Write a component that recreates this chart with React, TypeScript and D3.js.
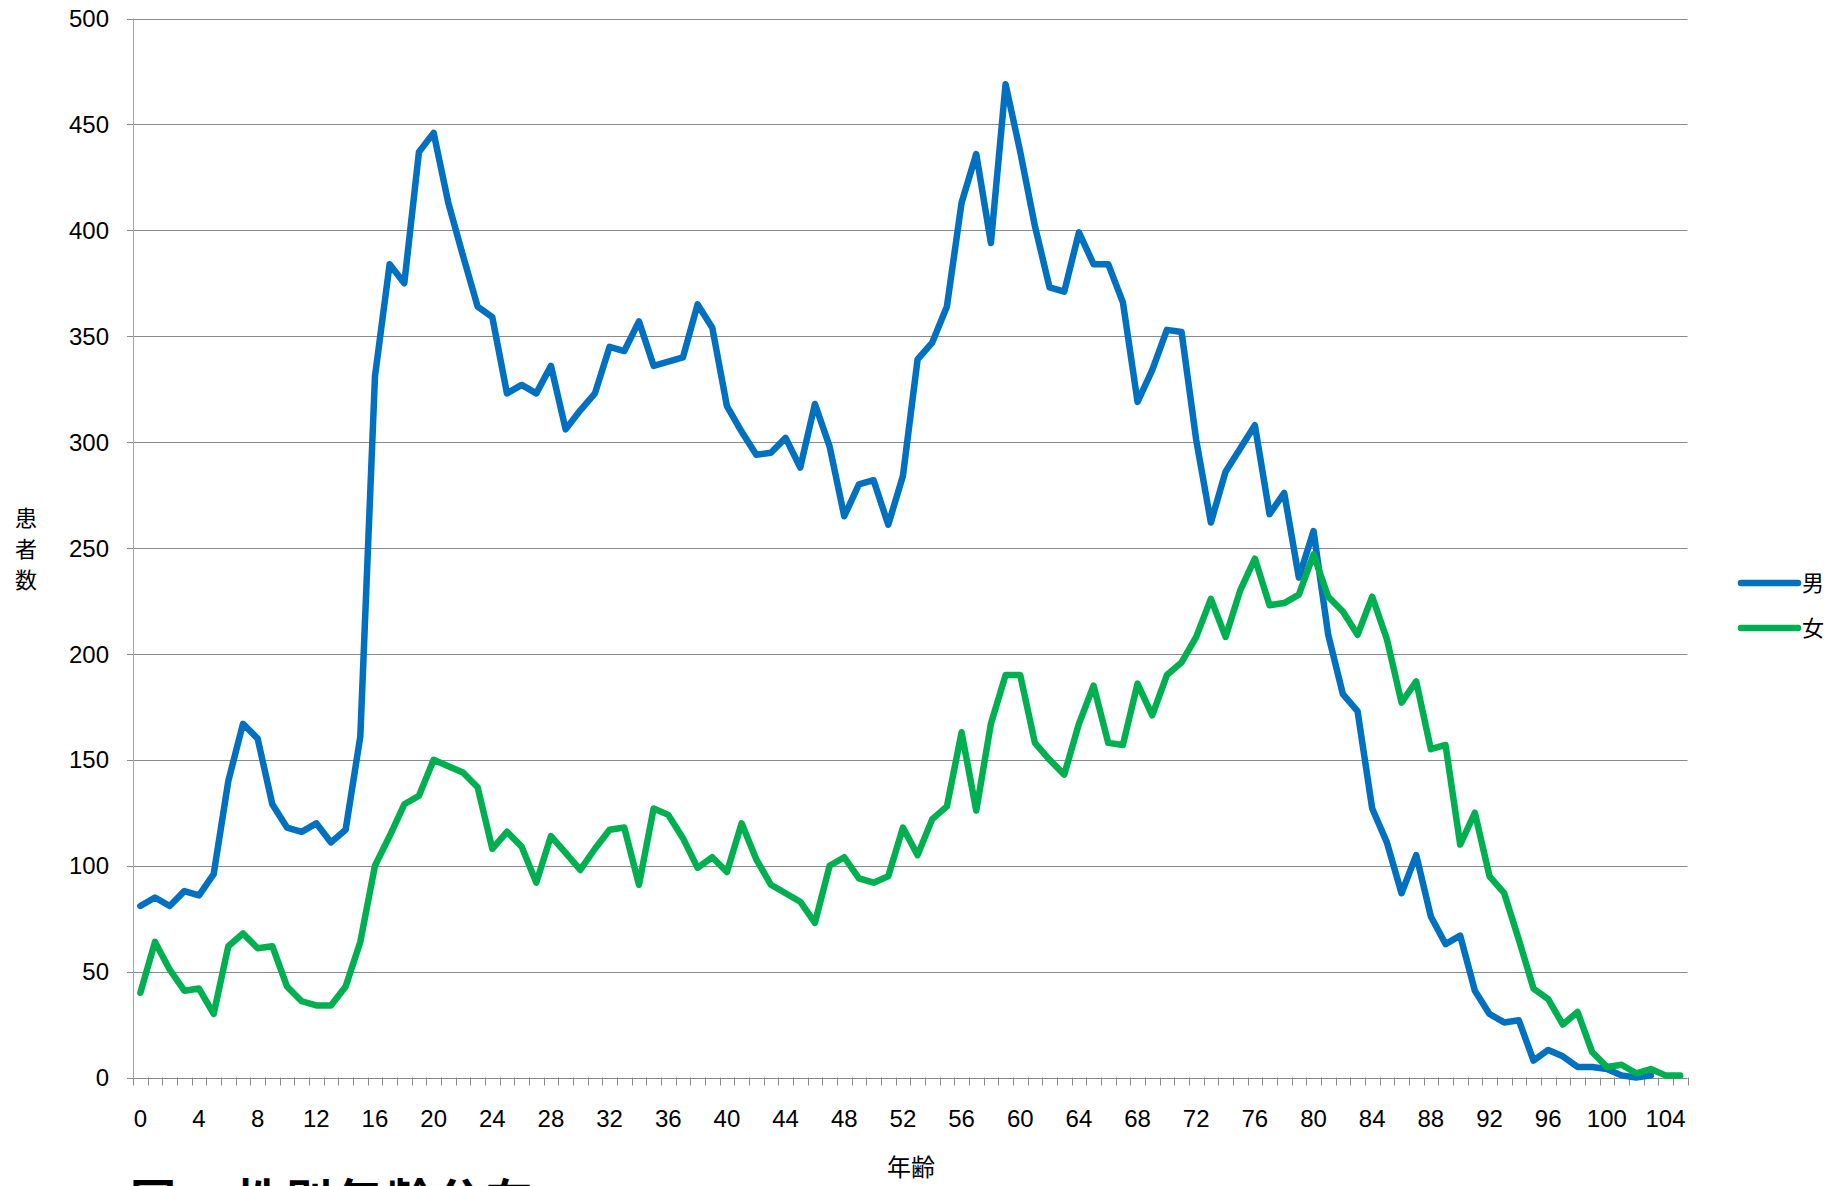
import React from "react";
import * as d3 from "d3";

const ages: number[] = Array.from({ length: 106 }, (_, i) => i);
const xTickLabels: number[] = [0, 4, 8, 12, 16, 20, 24, 28, 32, 36, 40, 44, 48, 52, 56, 60, 64, 68, 72, 76, 80, 84, 88, 92, 96, 100, 104];
const yTicks: number[] = [0, 50, 100, 150, 200, 250, 300, 350, 400, 450, 500];

const male: number[] = [
  81, 85, 81, 88, 86, 96, 140, 167, 160, 129,
  118, 116, 120, 111, 117, 161, 331, 384, 375, 437,
  446, 413, 388, 364, 359, 323, 327, 323, 336, 306,
  315, 323, 345, 343, 357, 336, 338, 340, 365, 354,
  317, 305, 294, 295, 302, 288, 318, 298, 265, 280,
  282, 261, 284, 339, 347, 364, 413, 436, 394, 469,
  437, 402, 373, 371, 399, 384, 384, 366, 319, 334,
  353, 352, 301, 262, 286, 297, 308, 266, 276, 236,
  258, 209, 181, 173, 127, 111, 87, 105, 76, 63,
  67, 41, 30, 26, 27, 8, 13, 10, 5, 5,
  4, 1, 0, 1,
];

const female: number[] = [
  40, 64, 51, 41, 42, 30, 62, 68, 61, 62,
  43, 36, 34, 34, 43, 64, 100, 114, 129, 133,
  150, 147, 144, 137, 108, 116, 109, 92, 114, 106,
  98, 108, 117, 118, 91, 127, 124, 113, 99, 104,
  97, 120, 103, 91, 87, 83, 73, 100, 104, 94,
  92, 95, 118, 105, 122, 128, 163, 126, 167, 190,
  190, 158, 150, 143, 167, 185, 158, 157, 186, 171,
  190, 196, 208, 226, 208, 230, 245, 223, 224, 228,
  247, 227, 220, 209, 227, 207, 177, 187, 155, 157,
  110, 125, 95, 87, 65, 42, 37, 25, 31, 12,
  5, 6, 2, 4, 1, 1,
];

const seriesNames = ["男", "女"];
const seriesColors = ["#0070C0", "#00B050"];

const W = 1848;
const H = 1186;
const left = 133;
const right = 1687.5;
const top = 18.5;
const bottom = 1077.5;

const latin = "'Liberation Sans', Arial, sans-serif";
const cjk = "'Noto Sans CJK JP', 'Noto Sans CJK SC', sans-serif";

export default function App() {
  const xb = d3.scaleBand<number>().domain(ages).range([left, right]).padding(0);
  const bw = xb.bandwidth();
  const xc = (a: number) => (xb(a) as number) + bw / 2;
  const y = d3.scaleLinear().domain([0, 500]).range([bottom, top]);

  const line = d3
    .line<number>()
    .x((_, i) => xc(ages[i]))
    .y((d) => y(d));

  const boundaries = ages.map((a) => xb(a) as number).concat([right]);
  const series = [male, female];

  return (
    <svg
      width={W}
      height={H}
      style={{ position: "absolute", left: 0, top: 0, background: "#fff" }}
    >
      <rect x={0} y={0} width={W} height={H} fill="#fff" />
      {yTicks.map((t) => (
        <line
          key={"g" + t}
          x1={left - 6}
          x2={right}
          y1={Math.round(y(t)) + 0.5}
          y2={Math.round(y(t)) + 0.5}
          stroke="#8a8a8a"
          strokeWidth={1}
        />
      ))}
      <line x1={left + 0.5} x2={left + 0.5} y1={top} y2={bottom} stroke="#a6a6a6" strokeWidth={1} />
      {boundaries.map((bx, i) => (
        <line
          key={"xt" + i}
          x1={Math.round(bx) + 0.5}
          x2={Math.round(bx) + 0.5}
          y1={bottom}
          y2={bottom + 8}
          stroke="#8a8a8a"
          strokeWidth={1}
        />
      ))}
      {yTicks.map((t) => (
        <text
          key={"yl" + t}
          x={109}
          y={y(t)}
          dy="0.36em"
          textAnchor="end"
          fontFamily={latin}
          fontSize={24}
          fill="#000"
        >
          {t}
        </text>
      ))}
      {xTickLabels.map((a) => (
        <text
          key={"xl" + a}
          x={xc(a)}
          y={1127}
          textAnchor="middle"
          fontFamily={latin}
          fontSize={24}
          fill="#000"
        >
          {a}
        </text>
      ))}
      {series.map((s, i) => (
        <path
          key={"s" + i}
          d={line(s) || ""}
          fill="none"
          stroke={seriesColors[i]}
          strokeWidth={6.5}
          strokeLinejoin="round"
          strokeLinecap="round"
        />
      ))}
      {["患", "者", "数"].map((ch, i) => (
        <text
          key={"yt" + i}
          x={26}
          y={526 + i * 31}
          textAnchor="middle"
          fontFamily={cjk}
          fontSize={22}
          fill="#000"
        >
          {ch}
        </text>
      ))}
      <text x={911} y={1176} textAnchor="middle" fontFamily={cjk} fontSize={24} fill="#000">
        年齢
      </text>
      {seriesNames.map((n, i) => (
        <g key={"lg" + i}>
          <line
            x1={1741}
            x2={1798}
            y1={583 + i * 45}
            y2={583 + i * 45}
            stroke={seriesColors[i]}
            strokeWidth={6.5}
            strokeLinecap="round"
          />
          <text x={1802} y={583 + i * 45} dy="0.36em" fontFamily={cjk} fontSize={22} fill="#000">
            {n}
          </text>
        </g>
      ))}
      <text x={130} y={1217} fontFamily={cjk} fontSize={46} fontWeight="bold" fill="#000">
        図
      </text>
      <text x={236} y={1217} fontFamily={cjk} fontSize={46} fontWeight="bold" letterSpacing={4} fill="#000">
        性別年齢分布
      </text>
    </svg>
  );
}
